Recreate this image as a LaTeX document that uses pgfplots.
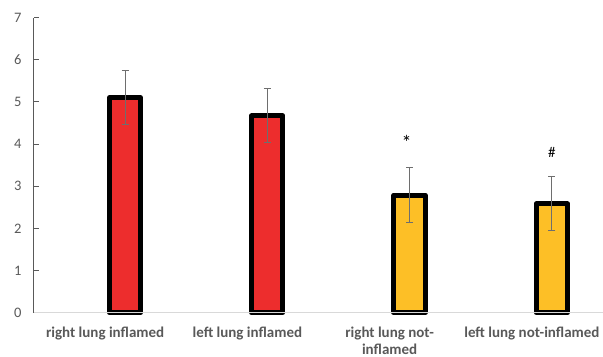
\documentclass[border=0pt]{standalone}
\usepackage{fontspec}
\setmainfont{Carlito}
\usepackage{pgfplots}
\pgfplotsset{compat=1.18}
\usetikzlibrary{calc}
\definecolor{barred}{HTML}{ED2D2D}
\definecolor{baryellow}{HTML}{FDBF26}
\definecolor{axisgray}{HTML}{595959}
\definecolor{baseline}{HTML}{D9D9D9}
\definecolor{errgray}{HTML}{6E6E6E}
\begin{document}
\begin{tikzpicture}
\begin{axis}[
  name=ax,
  scale only axis,
  width=569pt, height=295pt,
  xmin=-0.64, xmax=3.36,
  ymin=0, ymax=7,
  ytick={0,1,2,3,4,5,6,7},
  xtick={-0.14,0.86,1.86,2.86},
  xticklabels={right lung inflamed, left lung inflamed, {right lung not-\\inflamed}, left lung not-inflamed},
  axis x line=bottom,
  axis y line=left,
  x axis line style={draw=baseline, line width=1pt, -},
  y axis line style={draw=axisgray, line width=1pt, -},
  x tick style={draw=none},
  y tick style={draw=axisgray, line width=1pt},
  major tick length=5pt,
  tick align=inside,
  /pgf/number format/assume math mode=true,
  yticklabel style={font=\fontsize{14.5}{17}\selectfont, text=axisgray, xshift=-9pt},
  xticklabel style={font=\fontsize{15}{17}\selectfont\bfseries, text=axisgray, align=center, yshift=-6pt},
  ybar,
  bar width=0.22,
  bar shift=0pt,
  axis on top,
  clip=false,
]
\addplot[fill=barred, draw=black, line width=5pt, line join=round,
  error bars/.cd, y dir=both, y explicit,
  error bar style={draw=errgray, line width=1pt},
  error mark options={rotate=90, mark size=3.5pt, draw=errgray, line width=1pt}]
  coordinates {(0,5.10) +- (0,0.64) (1,4.67) +- (0,0.64)};
\addplot[fill=baryellow, draw=black, line width=5pt, line join=round,
  error bars/.cd, y dir=both, y explicit,
  error bar style={draw=errgray, line width=1pt},
  error mark options={rotate=90, mark size=3.5pt, draw=errgray, line width=1pt}]
  coordinates {(2,2.79) +- (0,0.645) (3,2.58) +- (0,0.64)};
\node[font=\fontsize{20}{22}\selectfont] at (axis cs:1.98,4.05) {*};
\node[font=\fontsize{15}{18}\selectfont] at (axis cs:3,3.80) {\#};
\end{axis}
\pgfresetboundingbox
\path ($(ax.south west)+(-34pt,-44.3pt)$) rectangle ($(ax.north east)+(0pt,17.7pt)$);
\end{tikzpicture}
\end{document}
